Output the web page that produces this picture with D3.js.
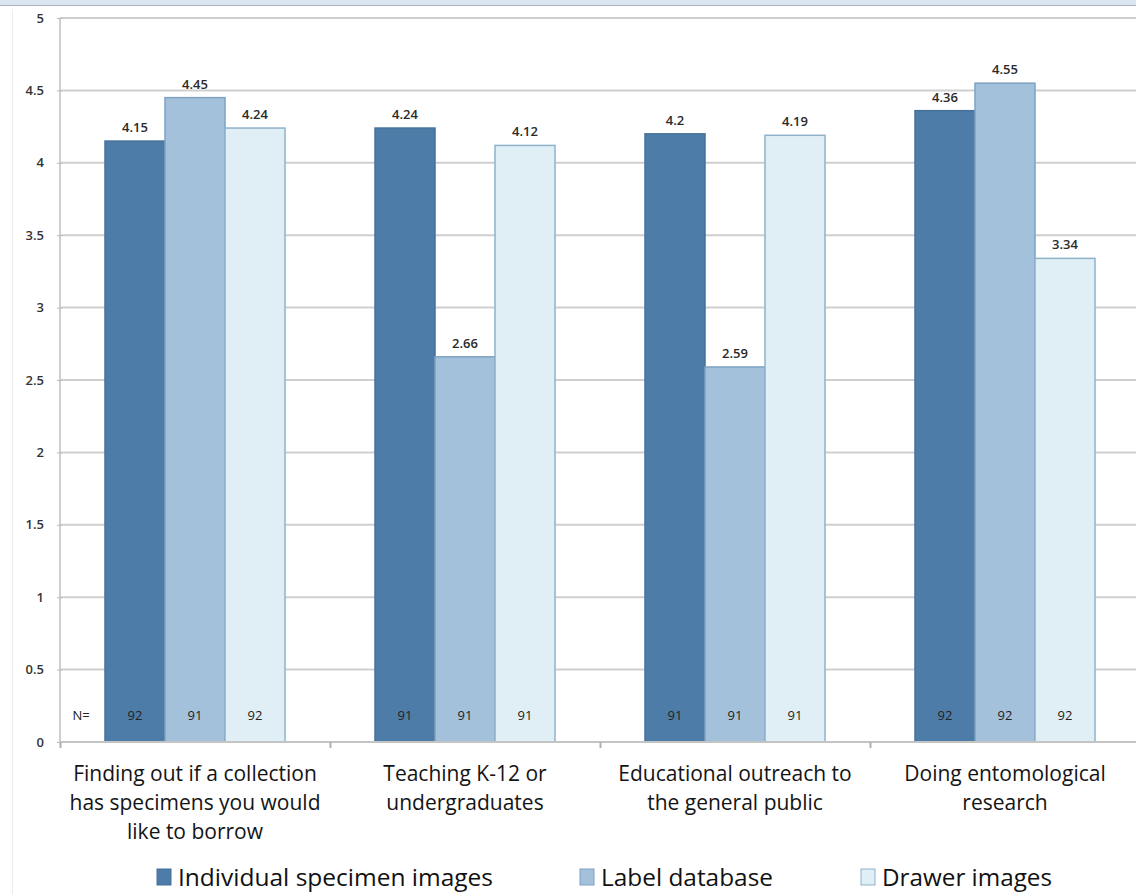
<!DOCTYPE html>
<html>
<head>
<meta charset="utf-8">
<script src="https://cdn.jsdelivr.net/npm/d3@7"></script>
<style>
  body { margin: 0; background: #fff; }
  svg text { font-family: "Open Sans", Lato, sans-serif; }
</style>
</head>
<body>
<div id="chart"></div>
<script>
// data
var categories = [
    ["Finding out if a collection", "has specimens you would", "like to borrow"],
    ["Teaching K-12 or", "undergraduates"],
    ["Educational outreach to", "the general public"],
    ["Doing entomological", "research"]
];
var series = ["Individual specimen images", "Label database", "Drawer images"];
var individual = [4.15, 4.24, 4.2, 4.36];
var labelDb = [4.45, 2.66, 2.59, 4.55];
var drawer = [4.24, 4.12, 4.19, 3.34];
var nIndividual = [92, 91, 91, 92];
var nLabel = [91, 91, 91, 92];
var nDrawer = [92, 91, 91, 92];
var yTicks = [0, 0.5, 1, 1.5, 2, 2.5, 3, 3.5, 4, 4.5, 5];

var W = 1136, H = 894;
var margin = { top: 18, left: 60, bottom: 152 };
var plotW = 1080, plotH = H - margin.top - margin.bottom;

var fills = ["#4e7ca8", "#a4c1dc", "#e0eef5"];
var strokes = ["#45719b", "#7ea2c2", "#8fb2cc"];
var values = [individual, labelDb, drawer];
var counts = [nIndividual, nLabel, nDrawer];

var svg = d3.select("#chart").append("svg")
    .attr("width", W).attr("height", H);

// cut-off banner at top of the page
svg.append("rect").attr("x", 0).attr("y", 0).attr("width", W).attr("height", 5).attr("fill", "#dce6f1");
svg.append("line").attr("x1", 0).attr("x2", W).attr("y1", 5.5).attr("y2", 5.5).attr("stroke", "#a9b3bd").attr("stroke-width", 1);
svg.append("line").attr("x1", 12.5).attr("x2", 12.5).attr("y1", 9).attr("y2", H).attr("stroke", "#ececec");

var g = svg.append("g").attr("transform", "translate(" + margin.left + "," + margin.top + ")");

var y = d3.scaleLinear().domain([0, 5]).range([plotH, 0]);
var x = d3.scaleBand().domain(d3.range(categories.length)).range([0, plotW]);
var xs = d3.scaleBand().domain(d3.range(series.length))
    .range([x.bandwidth() / 6, x.bandwidth() * 5 / 6]);

// gridlines
g.selectAll(".grid").data(yTicks.filter(function (d) { return d > 0; }))
    .enter().append("line")
    .attr("x1", 0).attr("x2", plotW + 20)
    .attr("y1", function (d) { return y(d); }).attr("y2", function (d) { return y(d); })
    .attr("stroke", "#cfcfcf").attr("stroke-width", 2);

// y axis
var yAxis = g.append("g")
    .call(d3.axisLeft(y).tickValues(yTicks).tickSize(6).tickPadding(10)
        .tickFormat(function (d) { return d3.format("")(d); }));
yAxis.select(".domain").attr("stroke", "#cfcfcf").attr("stroke-width", 2).attr("d", "M0," + plotH + "V0");
yAxis.selectAll(".tick line").attr("stroke", "#bbb").attr("x1", -3).attr("x2", 2);
yAxis.selectAll(".tick text").attr("font-size", 13).attr("font-weight", 600).attr("fill", "#333")
    .attr("font-family", "'Open Sans', sans-serif");

// bars
for (var s = 0; s < series.length; s++) {
    var bg = g.append("g");
    bg.selectAll("rect").data(values[s]).enter().append("rect")
        .attr("x", function (d, i) { return x(i) + xs(s); })
        .attr("y", function (d) { return y(d); })
        .attr("width", xs.bandwidth())
        .attr("height", function (d) { return plotH - y(d); })
        .attr("fill", fills[s]).attr("stroke", strokes[s]).attr("stroke-width", 1.5);
    bg.selectAll(".val").data(values[s]).enter().append("text")
        .attr("x", function (d, i) { return x(i) + xs(s) + xs.bandwidth() / 2; })
        .attr("y", function (d) { return y(d) - 9; })
        .attr("text-anchor", "middle").attr("font-size", 13).attr("font-weight", 600).attr("fill", "#2a2a2a")
        .text(function (d) { return d; });
    bg.selectAll(".n").data(counts[s]).enter().append("text")
        .attr("x", function (d, i) { return x(i) + xs(s) + xs.bandwidth() / 2; })
        .attr("y", plotH - 22)
        .attr("text-anchor", "middle").attr("font-size", 13).attr("fill", "#222")
        .text(function (d) { return d; });
}
g.append("text").attr("x", 21).attr("y", plotH - 22).attr("text-anchor", "middle")
    .attr("font-size", 13).attr("fill", "#222").text("N=");

// x axis
var xAxisG = g.append("g").attr("transform", "translate(0," + plotH + ")");
xAxisG.append("line").attr("x1", 0).attr("x2", plotW + 20).attr("stroke", "#c4c4c4").attr("stroke-width", 2);
xAxisG.selectAll(".tk").data(d3.range(categories.length)).enter().append("line")
    .attr("x1", function (d) { return x(d) + 0.5; }).attr("x2", function (d) { return x(d) + 0.5; })
    .attr("y1", 0).attr("y2", 6).attr("stroke", "#b0b0b0").attr("stroke-width", 2);
var cl = xAxisG.selectAll(".cat").data(categories).enter().append("text")
    .attr("text-anchor", "middle").attr("font-size", 21).attr("fill", "#141414")
    .attr("transform", function (d, i) { return "translate(" + (x(i) + x.bandwidth() / 2) + ",39)"; });
cl.selectAll("tspan").data(function (d) { return d; }).enter().append("tspan")
    .attr("x", 0).attr("dy", function (d, i) { return i === 0 ? 0 : 29; })
    .text(function (d) { return d; });

// legend
var legendX = [157, 580, 861];
var lg = svg.append("g").selectAll("g").data(series).enter().append("g")
    .attr("transform", function (d, i) { return "translate(" + legendX[i] + ",869)"; });
lg.append("rect").attr("width", 14).attr("height", 16)
    .attr("fill", function (d, i) { return fills[i]; })
    .attr("stroke", function (d, i) { return strokes[i]; });
lg.append("text").attr("x", 21).attr("y", 17).attr("font-size", 23).attr("fill", "#111")
    .attr("textLength", function (d, i) { return [315, 172, 170][i]; })
    .attr("lengthAdjust", "spacingAndGlyphs")
    .text(function (d) { return d; });
</script>
</body>
</html>
